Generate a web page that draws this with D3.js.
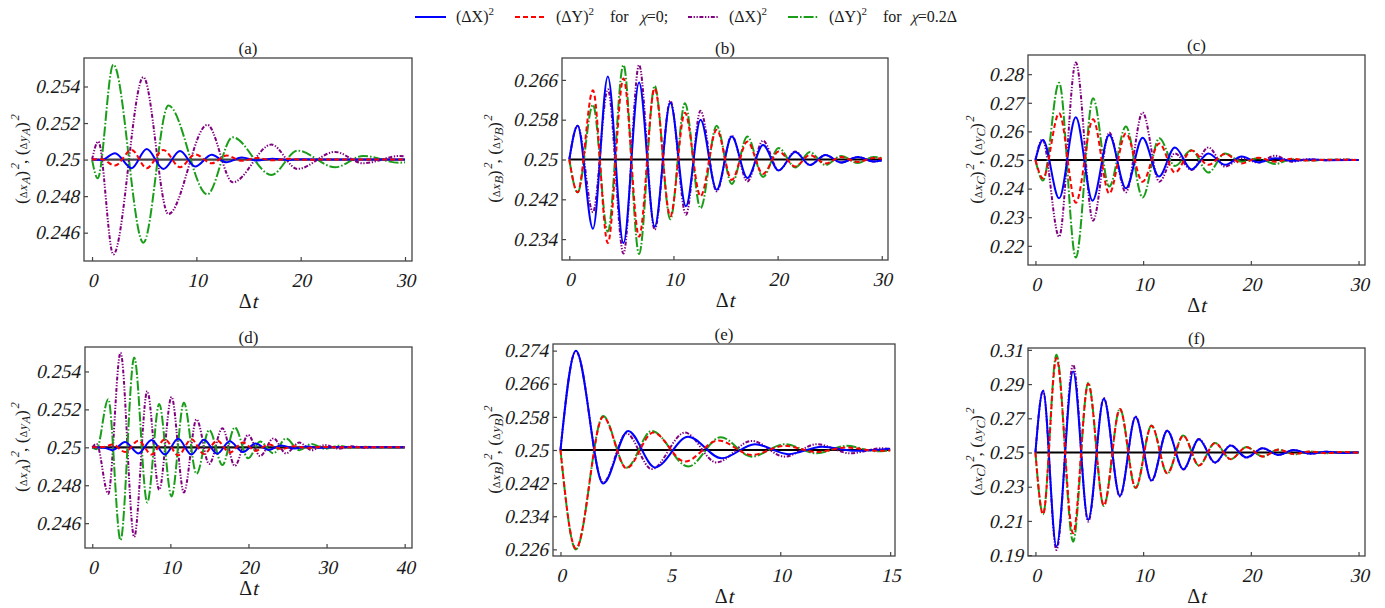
<!DOCTYPE html>
<html><head><meta charset="utf-8">
<script src="https://cdn.jsdelivr.net/npm/d3@7"></script>
<style>
body{margin:0;background:#fff;}
svg, svg text{font-family:'Liberation Serif','Tinos','DejaVu Serif',serif !important;}
</style></head><body>
<svg id="chart" width="1385" height="608"></svg>
<script>
// ---------- DATA (extrema; [Δt, value]) ----------
// Panel (a)
const aBlue   = [[0,0.25],[0.9,0.24998],[2.2,0.25035],[3.8,0.24953],[5.24,0.25058],[6.84,0.24949],[8.44,0.25047],[9.88,0.24962],[11.47,0.25026],[12.9,0.24985],[14.35,0.25011],[15.8,0.24995],[17.3,0.25005],[18.8,0.24998],[20.3,0.25002],[22,0.25],[30,0.25]];
const aRed    = [[0,0.25],[0.9,0.25002],[2.2,0.24967],[3.8,0.25053],[5.24,0.24953],[6.84,0.25053],[8.44,0.24958],[9.88,0.25029],[11.47,0.2498],[12.9,0.25022],[14.35,0.24993],[15.8,0.25009],[17.3,0.24996],[18.8,0.25004],[20.3,0.24999],[22,0.25],[30,0.25]];
const aPurple = [[0,0.25],[0.6,0.25099],[2.04,0.24481],[4.92,0.25451],[7.32,0.24702],[11.05,0.2519],[13.5,0.24876],[17.2,0.25082],[19.7,0.24949],[23.3,0.25042],[26,0.2498],[29.5,0.2502],[30,0.25018]];
const aGreen  = [[0,0.25],[0.54,0.24898],[2.04,0.2552],[4.92,0.24545],[7.32,0.25296],[11.05,0.2481],[13.48,0.25122],[17.2,0.24916],[19.7,0.25049],[23.3,0.24958],[26,0.2502],[29.4,0.24983],[30,0.24985]];
// Panel (b)
const bBlue   = [[0,0.25],[0.8,0.2568],[2.27,0.2361],[3.7,0.2667],[5.2,0.2332],[6.7,0.2655],[8.2,0.2365],[9.7,0.2614],[11.2,0.2406],[12.6,0.258],[14.15,0.2439],[15.6,0.2546],[17.1,0.2463],[18.6,0.2529],[20.1,0.2478],[21.7,0.2515],[23.1,0.2489],[24.6,0.2509],[26.1,0.2494],[27.7,0.2505],[29.2,0.2496],[30,0.2498]];
const bRed    = [[0,0.25],[0.8,0.2434],[2.27,0.2639],[3.7,0.2332],[5.2,0.2663],[6.7,0.2345],[8.2,0.2643],[9.7,0.2386],[11.1,0.2594],[12.6,0.2426],[14.15,0.256],[15.6,0.2459],[17.1,0.2536],[18.6,0.2471],[20.1,0.2516],[21.7,0.2486],[23.1,0.2509],[24.6,0.2492],[26.1,0.2505],[27.7,0.2495],[29.2,0.2503],[30,0.2502]];
const bPurple = [[0,0.25],[0.8,0.2568],[2.27,0.2394],[3.7,0.2641],[5.2,0.2311],[6.7,0.269],[8.2,0.2359],[9.7,0.2618],[11.2,0.2389],[12.6,0.2598],[14.15,0.2436],[15.6,0.2548],[17.1,0.2456],[18.6,0.2538],[20.1,0.2478],[21.7,0.2516],[23.1,0.2489],[24.6,0.2509],[26.1,0.2494],[27.7,0.2505],[29.2,0.2496],[30,0.2498]];
const bGreen  = [[0,0.25],[0.8,0.2434],[2.27,0.261],[3.7,0.2355],[5.2,0.269],[6.7,0.231],[8.2,0.2648],[9.7,0.238],[11.1,0.2613],[12.6,0.2402],[14.15,0.2568],[15.6,0.2451],[17.1,0.2546],[18.6,0.2465],[20.1,0.2523],[21.7,0.2484],[23.1,0.2515],[24.6,0.2489],[26.1,0.2507],[27.7,0.2493],[29.2,0.2505],[30,0.2503]];
// Panel (c)
const cBlue   = [[0,0.25],[0.7,0.257],[2.2,0.2366],[3.75,0.2649],[5.3,0.2358],[6.85,0.2587],[8.4,0.2401],[9.95,0.2578],[11.47,0.2442],[12.95,0.2544],[14.5,0.2467],[16.05,0.2523],[17.6,0.2483],[19.15,0.2512],[20.7,0.2492],[22.25,0.2506],[23.8,0.2497],[25.4,0.2502],[27,0.2499],[30,0.25]];
const cRed    = [[0,0.25],[0.7,0.2436],[2.2,0.2663],[3.75,0.2351],[5.35,0.2642],[6.85,0.2383],[8.4,0.2593],[9.95,0.2424],[11.5,0.2558],[12.95,0.2456],[14.5,0.2533],[16.05,0.2483],[17.6,0.2521],[19.15,0.2488],[20.7,0.2508],[22.25,0.2494],[23.8,0.2504],[25.4,0.2498],[27,0.2501],[30,0.25]];
const cPurple = [[0,0.25],[0.65,0.2572],[2.2,0.2232],[3.75,0.2841],[5.35,0.2288],[6.85,0.2596],[8.4,0.2387],[9.95,0.2666],[11.5,0.2424],[12.95,0.2523],[14.5,0.2465],[16.05,0.2544],[17.6,0.2477],[19.15,0.2506],[20.7,0.2491],[22.25,0.2515],[23.8,0.2494],[25.4,0.2503],[27,0.2499],[28.6,0.2502],[30,0.25]];
const cGreen  = [[0,0.25],[0.7,0.2428],[2.2,0.277],[3.75,0.2159],[5.35,0.2716],[6.85,0.2407],[8.4,0.2617],[9.95,0.2369],[11.5,0.2576],[12.95,0.2479],[14.5,0.2535],[16.05,0.2456],[17.6,0.2523],[19.15,0.2494],[20.7,0.2506],[22.25,0.2486],[23.8,0.2503],[25.4,0.2498],[27,0.2501],[30,0.25]];
// Panel (d)
const dBlue   = [[0,0.25],[1.5,0.24998],[2.6,0.24985],[4.2,0.25028],[5.9,0.24968],[7.6,0.25038],[9.3,0.24962],[11.0,0.25045],[12.7,0.24962],[14.3,0.2504],[16.0,0.24966],[17.6,0.25032],[19.3,0.24975],[20.9,0.2502],[22.6,0.24986],[24.2,0.2501],[25.9,0.24994],[27.5,0.25004],[29.2,0.24998],[31,0.25001],[40,0.25]];
const dRed    = [[0,0.25],[1.5,0.25002],[2.6,0.25015],[4.2,0.24975],[5.9,0.25035],[7.6,0.24962],[9.3,0.25042],[11.0,0.24958],[12.7,0.25042],[14.3,0.24965],[16.0,0.25035],[17.6,0.24972],[19.3,0.25025],[20.9,0.24982],[22.6,0.25015],[24.2,0.24991],[25.9,0.25006],[27.5,0.24997],[29.2,0.25002],[31,0.25],[40,0.25]];
const dPurple = [[0,0.25],[0.55,0.25018],[2.05,0.24755],[3.62,0.25499],[5.37,0.24527],[7.04,0.25296],[8.57,0.24776],[10.15,0.25266],[11.73,0.24762],[13.35,0.25147],[14.97,0.24912],[16.67,0.251],[18.25,0.24902],[19.96,0.25065],[21.5,0.24954],[23.2,0.25047],[24.8,0.24968],[26.5,0.25025],[28.1,0.24985],[29.8,0.25012],[31.5,0.24993],[33.2,0.25005],[35,0.24998],[37,0.25002],[40,0.25]];
const dGreen  = [[0,0.25],[0.55,0.2499],[2.05,0.25254],[3.62,0.2451],[5.37,0.25473],[7.04,0.24709],[8.57,0.25228],[10.15,0.24741],[11.73,0.25235],[13.35,0.2486],[14.97,0.25091],[16.67,0.24907],[18.25,0.25105],[19.96,0.24942],[21.5,0.2503],[23.2,0.24968],[24.8,0.25047],[26.5,0.24985],[28.1,0.25018],[29.8,0.24992],[31.5,0.25008],[33.2,0.24997],[35,0.25003],[37,0.24999],[40,0.25]];
// Panel (e)
const eBlue   = [[0,0.25],[0.7,0.274],[1.94,0.2419],[3.08,0.2546],[4.3,0.2458],[5.81,0.2532],[7.33,0.248],[8.85,0.2514],[10.37,0.249],[11.9,0.2508],[13.4,0.2498],[15,0.2503]];
const eRed    = [[0,0.25],[0.7,0.2262],[1.94,0.258],[3.0,0.2456],[4.22,0.2542],[5.66,0.2472],[7.18,0.2523],[8.7,0.2488],[10.2,0.251],[11.66,0.2495],[13.0,0.2506],[14.4,0.2498],[15,0.2499]];
const ePurple = [[0,0.25],[0.7,0.2738],[1.94,0.2421],[3.0,0.254],[4.15,0.2454],[5.66,0.2542],[7.1,0.247],[8.7,0.2522],[10.2,0.2484],[11.66,0.2514],[13.2,0.2492],[14.6,0.2504],[15,0.2503]];
const eGreen  = [[0,0.25],[0.7,0.226],[1.94,0.2582],[3.0,0.2457],[4.15,0.2546],[5.81,0.246],[7.29,0.2531],[8.7,0.2484],[10.2,0.2514],[11.66,0.2492],[13.0,0.251],[14.4,0.2497],[15,0.2499]];
// Panel (f)
const fBlue   = [[0,0.25],[0.71,0.2861],[1.95,0.195],[3.5,0.2974],[4.9,0.2106],[6.35,0.2814],[7.84,0.2246],[9.3,0.2707],[10.78,0.2336],[12.24,0.2627],[13.73,0.2402],[15.18,0.2578],[16.67,0.2441],[18.13,0.2541],[19.6,0.2471],[21.1,0.2525],[22.56,0.2486],[24,0.2514],[25.5,0.2493],[27,0.2505],[28.5,0.2497],[30,0.2501]];
const fRed    = [[0,0.25],[0.71,0.2139],[1.95,0.3052],[3.5,0.2028],[4.9,0.2902],[6.35,0.219],[7.84,0.2754],[9.3,0.2295],[10.78,0.2656],[12.24,0.2379],[13.73,0.2598],[15.18,0.2424],[16.67,0.2555],[18.13,0.2461],[19.6,0.2531],[21.1,0.2477],[22.56,0.2516],[24,0.2491],[25.5,0.2506],[27,0.2496],[28.5,0.2503],[30,0.2499]];
const fPurple = [[0,0.25],[0.71,0.2862],[1.95,0.193],[3.5,0.3013],[4.9,0.2096],[6.35,0.2818],[7.84,0.2243],[9.3,0.271],[10.78,0.2334],[12.24,0.2628],[13.73,0.24],[15.18,0.2579],[16.67,0.244],[18.13,0.2542],[19.6,0.247],[21.1,0.2525],[22.56,0.2486],[24,0.2514],[25.5,0.2493],[27,0.2505],[28.5,0.2497],[30,0.2501]];
const fGreen  = [[0,0.25],[0.71,0.2139],[1.95,0.3072],[3.5,0.1979],[4.9,0.2908],[6.35,0.2188],[7.84,0.2756],[9.3,0.2292],[10.78,0.2658],[12.24,0.2377],[13.73,0.26],[15.18,0.2423],[16.67,0.2556],[18.13,0.246],[19.6,0.2532],[21.1,0.2476],[22.56,0.2517],[24,0.249],[25.5,0.2506],[27,0.2496],[28.5,0.2503],[30,0.2499]];

// axis domains and tick values
const xDomA = [-0.77, 30.67], yDomA = [0.24445, 0.25556];
const xDomB = [-0.70, 30.60], yDomB = [0.2298, 0.2704];
const xDomC = [-0.69, 30.60], yDomC = [0.2133, 0.2867];
const xDomD = [-0.93, 40.94], yDomD = [0.24469, 0.25529];
const xDomE = [-0.34, 15.22], yDomE = [0.2244, 0.2756];
const xDomF = [-0.69, 30.60], yDomF = [0.1895, 0.3111];
const xTicks30 = [0,10,20,30], xTicks40 = [0,10,20,30,40], xTicks15 = [0,5,10,15];
const yTicksA = [0.246,0.248,0.25,0.252,0.254];
const yTicksB = [0.234,0.242,0.25,0.258,0.266];
const yTicksC = [0.22,0.23,0.24,0.25,0.26,0.27,0.28];
const yTicksE = [0.226,0.234,0.242,0.25,0.258,0.266,0.274];
const yTicksF = [0.19,0.21,0.23,0.25,0.27,0.29,0.31];
const panelTitles = ["(a)","(b)","(c)","(d)","(e)","(f)"];
const subsys = ["A","B","C","A","B","C"];

// ---------- STYLE / LAYOUT ----------
const SKEW = 13, TAN = Math.tan(SKEW*Math.PI/180);
const INK = "#1a1a1a";
const styles = {
  blue:   {color:"#0000ff", dash:null},
  red:    {color:"#ff0000", dash:"5,3"},
  purple: {color:"#800080", dash:"4,1.6,1.3,1.6,1.3,1.6"},
  green:  {color:"#1a9e1a", dash:"10,2,1.6,2"}
};
const drawOrder = ["purple","green","blue","red"];

const panels = [
  {box:[84,58,412,261],   xd:xDomA, yd:yDomA, xt:xTicks30, xe:30, yt:yTicksA, s:{blue:aBlue,red:aRed,purple:aPurple,green:aGreen}, zl:"#444", ylx:27},
  {box:[562,58,888,260],  xd:xDomB, yd:yDomB, xt:xTicks30, xe:30, yt:yTicksB, s:{blue:bBlue,red:bRed,purple:bPurple,green:bGreen}, zl:"#000", ylx:500},
  {box:[1028,55,1365,265],xd:xDomC, yd:yDomC, xt:xTicks30, xe:30, yt:yTicksC, s:{blue:cBlue,red:cRed,purple:cPurple,green:cGreen}, zl:"#000", ylx:982},
  {box:[85,347,412,548],  xd:xDomD, yd:yDomD, xt:xTicks40, xe:40, yt:yTicksA, s:{blue:dBlue,red:dRed,purple:dPurple,green:dGreen}, zl:"#111", ylx:27},
  {box:[553,344,895,556], xd:xDomE, yd:yDomE, xt:xTicks15, xe:15, yt:yTicksE, s:{blue:eBlue,red:eRed,purple:ePurple,green:eGreen}, zl:"#000", ylx:500},
  {box:[1028,348,1365,556],xd:xDomF, yd:yDomF, xt:xTicks30, xe:30, yt:yTicksF, s:{blue:fBlue,red:fRed,purple:fPurple,green:fGreen}, zl:"#000", ylx:982}
];

const svg = d3.select("#chart");
const fmt = d => String(+d.toFixed(4));

// sequential rich text; italic parts are drawn upright and slanted
function richText(parent, parts, baseSize){
  const g = parent.append("g");
  let x = 0;
  parts.forEach(p=>{
    x += p.dx||0;
    const t = g.append("text").attr("font-size",p.size||baseSize).attr("fill",INK)
      .style("white-space","pre").text(p.s)
      .attr("transform",`translate(${x},${p.dy||0})${p.it?` skewX(${-SKEW})`:""}`);
    x += t.node().getComputedTextLength();
  });
  return {g, width:x};
}

panels.forEach((p,i) => {
  const [x0,y0,x1,y1] = p.box;
  const x = d3.scaleLinear().domain(p.xd).range([x0,x1]);
  const y = d3.scaleLinear().domain(p.yd).range([y1,y0]);
  const g = svg.append("g");
  const cid = "clip"+i;
  svg.append("clipPath").attr("id",cid).append("rect")
     .attr("x",x0).attr("y",y0).attr("width",x1-x0).attr("height",y1-y0);

  // reference line at 0.25
  g.append("line").attr("x1",x(0)).attr("x2",x(p.xe))
   .attr("y1",y(0.25)).attr("y2",y(0.25))
   .attr("stroke",p.zl).attr("stroke-width",2.2);

  const line = d3.line().x(d=>x(d[0])).y(d=>y(d[1])).curve(d3.curveMonotoneX);
  const cg = g.append("g").attr("clip-path",`url(#${cid})`);
  drawOrder.forEach(k => {
    cg.append("path").datum(p.s[k]).attr("d",line)
      .attr("fill","none").attr("stroke",styles[k].color)
      .attr("stroke-width",2).attr("stroke-dasharray",styles[k].dash)
      .attr("stroke-linejoin","round");
  });

  // frame
  g.append("rect").attr("x",x0).attr("y",y0).attr("width",x1-x0).attr("height",y1-y0)
   .attr("fill","none").attr("stroke","#444").attr("stroke-width",1.3);

  // axes (inward ticks)
  const ax = g.append("g").attr("transform",`translate(0,${y1})`)
    .call(d3.axisBottom(x).tickValues(p.xt).tickSizeInner(-4).tickSizeOuter(0).tickPadding(7).tickFormat(d=>d));
  const ay = g.append("g").attr("transform",`translate(${x0},0)`)
    .call(d3.axisLeft(y).tickValues(p.yt).tickSizeInner(-4).tickSizeOuter(0).tickPadding(5).tickFormat(fmt));
  [ax,ay].forEach(a=>{
    a.attr("font-family",null);
    a.select(".domain").remove();
    a.selectAll("line").attr("stroke","#444").attr("stroke-width",1.2);
    a.selectAll("text").attr("font-size",19.5).attr("fill",INK);
  });
  ax.selectAll("text").attr("dy","0.95em").attr("transform",`translate(${TAN*26},0) skewX(${-SKEW})`);
  ay.selectAll("text").attr("transform",`translate(${TAN*6},0) skewX(${-SKEW})`);

  // title
  const cx = (x0+x1)/2;
  g.append("text").attr("x",cx).attr("y",y0-4).attr("text-anchor","middle")
   .attr("font-size",17).attr("fill",INK).text(panelTitles[i]);

  // x label  Δt
  const xlWrap = g.append("g").attr("transform",`translate(${cx},${y1+47})`);
  const xl = richText(xlWrap, [{s:"Δ"},{s:"t",it:true}], 20);
  xl.g.attr("transform",`translate(${-xl.width/2},0)`);

  // y label  (Δx_A)^2, (Δy_A)^2
  const yc = (y0+y1)/2;
  const ylWrap = g.append("g").attr("transform",`translate(${p.ylx},${yc}) rotate(-90)`);
  const parts = [];
  ["x","y"].forEach((v,j)=>{
    parts.push({s:j===0?"(":", ("});
    parts.push({s:"Δ",size:10});
    parts.push({s:v,size:12.5,it:true});
    parts.push({s:subsys[i],size:12,it:true,dy:3});
    parts.push({s:")"});
    parts.push({s:"2",size:12,it:true,dy:-8,dx:1});
  });
  const yl = richText(ylWrap, parts, 17.5);
  yl.g.attr("transform",`translate(${-yl.width/2},0)`);
});

// ---------- LEGEND ----------
const legendLineX = [415, 515, 688, 788];
const legendItems = [
  {k:"blue",   parts:[{s:"(ΔX)"},{s:"2",size:11,dy:-7}]},
  {k:"red",    parts:[{s:"(ΔY)"},{s:"2",size:11,dy:-7},{s:"for",dx:16},{s:"χ",it:true,dx:11},{s:"=0;"}]},
  {k:"purple", parts:[{s:"(ΔX)"},{s:"2",size:11,dy:-7}]},
  {k:"green",  parts:[{s:"(ΔY)"},{s:"2",size:11,dy:-7},{s:"for",dx:16},{s:"χ",it:true,dx:9},{s:"=0.2Δ"}]}
];
const ly = 17;
legendItems.forEach((it,j)=>{
  const lx = legendLineX[j];
  svg.append("line").attr("x1",lx).attr("x2",lx+31).attr("y1",ly).attr("y2",ly)
    .attr("stroke",styles[it.k].color).attr("stroke-width",2).attr("stroke-dasharray",styles[it.k].dash);
  const w = svg.append("g").attr("transform",`translate(${lx+41},${ly+5})`);
  richText(w, it.parts, 16);
});
</script>
</body></html>
